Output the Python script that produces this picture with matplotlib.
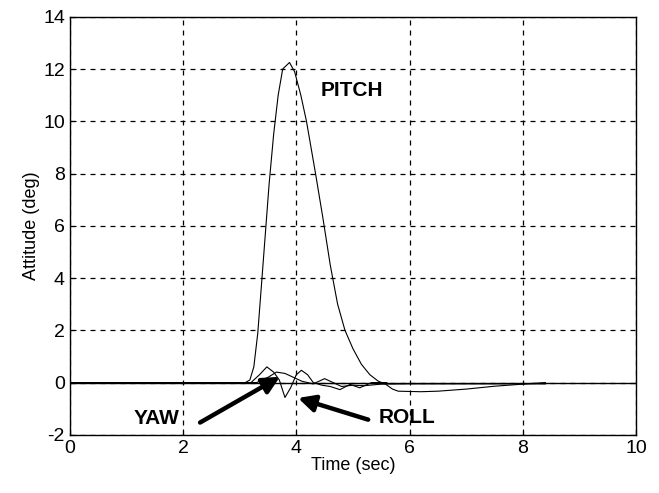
import numpy as np
import matplotlib
matplotlib.use('Agg')
from matplotlib import pyplot as plt

plt.rcParams['font.family'] = ['Liberation Sans', 'DejaVu Sans']
plt.rcParams['axes.unicode_minus'] = False

# pitch response (deg)
pitch_t = [0.0, 3.1, 3.18, 3.25, 3.32, 3.38, 3.45, 3.52, 3.6, 3.68, 3.76, 3.88,
           3.97, 4.08, 4.18, 4.34, 4.47, 4.6, 4.73, 4.86, 5.0, 5.15, 5.3, 5.45,
           5.57, 5.7, 5.8, 6.2, 6.5, 7.0, 7.5, 8.0, 8.4]
pitch_y = [0.0, 0.0, 0.1, 0.6, 1.9, 3.6, 5.6, 7.6, 9.5, 11.0, 12.0, 12.25,
           11.9, 11.0, 10.0, 8.0, 6.3, 4.5, 3.0, 2.0, 1.3, 0.7, 0.3, 0.05,
           -0.05, -0.25, -0.33, -0.35, -0.33, -0.25, -0.14, -0.06, 0.0]

# yaw response (deg)
yaw_t = [0.0, 3.2, 3.35, 3.48, 3.6, 3.7, 3.8, 3.9, 4.0, 4.09, 4.2, 4.3, 4.45,
         4.6, 4.77, 4.95, 5.12, 5.33, 5.6]
yaw_y = [0.0, 0.0, 0.3, 0.6, 0.4, 0.1, -0.57, -0.2, 0.3, 0.47, 0.3, 0.0, -0.1,
         -0.15, -0.27, -0.07, -0.2, 0.0, 0.0]

# roll response (deg)
roll_t = [0.0, 3.3, 3.5, 3.65, 3.8, 3.95, 4.1, 4.3, 4.5, 4.65, 4.8, 5.0, 5.2,
          5.5, 6.0, 7.0, 8.0, 8.4]
roll_y = [0.0, 0.0, 0.2, 0.4, 0.35, 0.2, 0.05, -0.05, 0.15, 0.0, -0.15, -0.1,
          -0.12, -0.06, -0.05, -0.05, -0.05, -0.05]


def main():
    fig = plt.figure(figsize=(6.59, 4.93), dpi=100)
    ax = fig.add_axes([0.106, 0.118, 0.859, 0.848])

    ax.plot(pitch_t, pitch_y, color='black', lw=0.8)
    ax.plot(yaw_t, yaw_y, color='black', lw=0.8)
    ax.plot(roll_t, roll_y, color='black', lw=0.8)
    ax.axhline(0, color='black', lw=1.0)

    ax.set_xlim(0, 10)
    ax.set_ylim(-2, 14)
    ax.set_xticks(np.arange(0, 11, 2))
    ax.set_yticks(np.arange(-2, 15, 2))
    ax.grid(True, color='black', ls=(0, (4, 4)), lw=0.9)
    ax.tick_params(direction='in', length=4, labelsize=14, color='black')
    for s in ax.spines.values():
        s.set_linewidth(1.0)
    ax.set_xlabel('Time (sec)', fontsize=13, labelpad=0)
    ax.set_ylabel('Attitude (deg)', fontsize=13, labelpad=2)

    ax.text(4.98, 11.16, 'PITCH', fontsize=15, fontweight='bold',
            ha='center', va='center')
    ax.text(1.54, -1.38, 'YAW', fontsize=15, fontweight='bold',
            ha='center', va='center')
    ax.text(5.95, -1.34, 'ROLL', fontsize=15, fontweight='bold',
            ha='center', va='center')

    arrow = dict(arrowstyle='-|>,head_length=1.0,head_width=0.5',
                 color='black', lw=3.2, shrinkA=0, shrinkB=0)
    ax.annotate('', xy=(3.71, 0.22), xytext=(2.3, -1.53), arrowprops=arrow)
    ax.annotate('', xy=(4.03, -0.59), xytext=(5.27, -1.42), arrowprops=arrow)

    fig.savefig('out.png', dpi=100)


if __name__ == '__main__':
    main()
